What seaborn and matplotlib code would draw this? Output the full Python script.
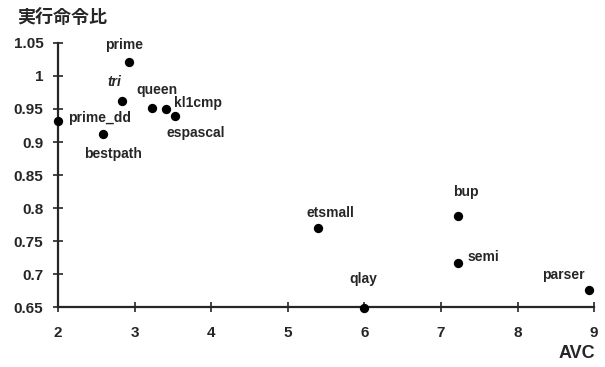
import matplotlib
matplotlib.use("Agg")
import matplotlib.pyplot as plt
import seaborn as sns
import pandas as pd

# values
names = ["prime", "tri", "queen", "kl1cmp", "espascal", "prime_dd", "bestpath",
         "etsmall", "bup", "semi", "qlay", "parser"]
avc = [2.93, 2.84, 3.22, 3.41, 3.53, 2.0, 2.59, 5.40, 7.22, 7.22, 6.0, 8.93]
ratio = [1.021, 0.962, 0.951, 0.950, 0.939, 0.932, 0.912, 0.770, 0.788, 0.717, 0.649, 0.676]

x_ticks = [2, 3, 4, 5, 6, 7, 8, 9]
y_ticks = [0.65, 0.7, 0.75, 0.8, 0.85, 0.9, 0.95, 1.0, 1.05]
y_tick_labels = ["0.65", "0.7", "0.75", "0.8", "0.85", "0.9", "0.95", "1", "1.05"]

# label offsets in points (dx, dy, ha)
offsets = {
    "prime": (-4, 12, "center"),
    "tri": (-6, 14, "center"),
    "queen": (4, 13, "center"),
    "kl1cmp": (6, 4, "left"),
    "espascal": (-6, -12, "left"),
    "prime_dd": (7, 2, "left"),
    "bestpath": (7, -14, "center"),
    "etsmall": (9, 11, "center"),
    "bup": (6, 17, "center"),
    "semi": (7, 4, "left"),
    "qlay": (-1, 21, "center"),
    "parser": (-18, 11, "center"),
}

df = pd.DataFrame({"name": names, "AVC": avc, "ratio": ratio})

sns.set_style("ticks")
plt.rcParams["font.family"] = ["Liberation Sans", "Noto Sans CJK JP", "DejaVu Sans"]
plt.rcParams["font.weight"] = "bold"

fig = plt.figure(figsize=(6.05, 3.67), dpi=100)
ax = fig.add_axes([0.096, 0.163, 0.886, 0.72])

sns.scatterplot(data=df, x="AVC", y="ratio", ax=ax, color="black", s=45,
                edgecolor="black", linewidth=0, clip_on=False, zorder=3)

for n, x, y in zip(names, avc, ratio):
    dx, dy, ha = offsets[n]
    ax.annotate(n, (x, y), xytext=(dx, dy), textcoords="offset points",
                ha=ha, va="center", fontsize=10, fontweight="bold",
                annotation_clip=False,
                style="italic" if n == "tri" else "normal")

ax.set_xlim(2, 9)
ax.set_ylim(0.65, 1.05)
ax.set_xticks(x_ticks)
ax.set_yticks(y_ticks)
ax.set_yticklabels(y_tick_labels)
ax.tick_params(direction="inout", length=7, width=1.2, labelsize=11)
ax.tick_params(axis="x", pad=10)
ax.tick_params(axis="y", pad=7)
for lab in ax.get_xticklabels() + ax.get_yticklabels():
    lab.set_fontweight("bold")
sns.despine(ax=ax)
ax.spines["left"].set_linewidth(1.6)
ax.spines["bottom"].set_linewidth(1.6)

ax.set_xlabel("")
ax.set_ylabel("")
fig.text(0.028, 0.953, "実行命令比", fontsize=13, fontweight="bold",
         family=["Noto Sans CJK JP", "DejaVu Sans"], va="center", ha="left")
fig.text(0.983, 0.038, "AVC", fontsize=13, fontweight="bold", ha="right", va="center")

fig.savefig("out.png", dpi=100)
